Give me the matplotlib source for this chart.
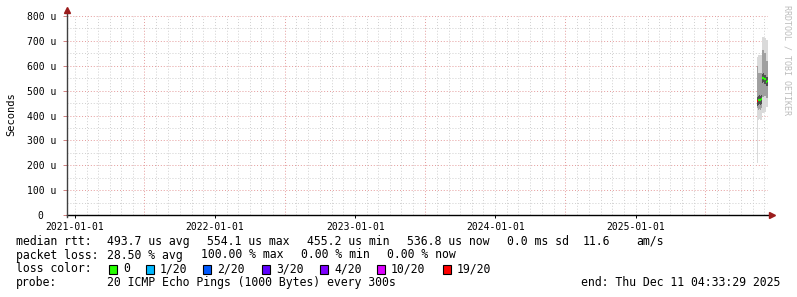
"""
Smokeping style latency graph (5 year view) rebuilt with matplotlib.
"""

import matplotlib
matplotlib.use("Agg")
import matplotlib.pyplot as plt
from matplotlib.patches import Rectangle
import pandas as pd

W, H = 797, 297
MONO = "DejaVu Sans Mono"

# --- data -------------------------------------------------------------
start = pd.Timestamp("2020-12-11 04:33:29")
end = pd.Timestamp("2025-12-11 04:33:29")

dates = pd.to_datetime([
    "2025-11-12", "2025-11-15", "2025-11-18", "2025-11-21", "2025-11-24",
    "2025-11-26", "2025-11-29", "2025-12-02", "2025-12-05", "2025-12-08",
    "2025-12-11",
])
median_rtt = [458, 462, 464, 462, 465, 550, 552, 545, 535, 537, 537]   # us
ping_min = [209, 382, 385, 382, 380, 410, 412, 415, 434, 434, 434]
ping_p25 = [430, 422, 425, 422, 430, 474, 474, 480, 470, 470, 470]
ping_p75 = [600, 571, 571, 571, 571, 663, 663, 650, 620, 620, 620]
ping_max = [635, 643, 643, 643, 643, 716, 716, 710, 703, 703, 703]
loss = [19, 0, 0, 0, 0, 0, 0, 0, 0, 0, 0]          # lost pings of 20

loss_levels = ["0", "1/20", "2/20", "3/20", "4/20", "10/20", "19/20"]
loss_limits = [0, 1, 2, 3, 4, 10, 19]
loss_colors = ["#26ff00", "#00b8ff", "#0059ff", "#5e00ff", "#7e00ff",
               "#dd00ff", "#ff0000"]

y_ticks = [0, 100, 200, 300, 400, 500, 600, 700, 800]
y_labels = ["0  ", "100 u", "200 u", "300 u", "400 u", "500 u", "600 u",
            "700 u", "800 u"]
year_labels = ["2021-01-01", "2022-01-01", "2023-01-01", "2024-01-01",
               "2025-01-01"]

legend_rows = [
    ("median rtt:", 241.5, [("493.7 us avg", 107), ("554.1 us max", 207),
                            ("455.2 us min", 307), ("536.8 us now", 407),
                            ("0.0 ms sd", 507), ("11.6", 583),
                            ("am/s", 636)]),
    ("packet loss:", 255, [("28.50 % avg", 107), ("100.00 % max", 201),
                           ("0.00 % min", 301), ("0.00 % now", 387)]),
    ("probe:", 282.5, [("20 ICMP Echo Pings (1000 Bytes) every 300s", 107)]),
]
end_label = "end: Thu Dec 11 04:33:29 2025"


def fx(x):
    return x / W


def fy(y):
    return 1 - y / H


def loss_color(n):
    col = loss_colors[0]
    for lim, c in zip(loss_limits, loss_colors):
        if n >= lim:
            col = c
    return col


fig = plt.figure(figsize=(W / 100, H / 100), dpi=100)
fig.patch.set_facecolor("white")
ax = fig.add_axes([fx(67), fy(215), fx(768 - 67), (215 - 16) / H])
ax.set_xlim(start, end)
ax.set_ylim(0, 800)
for s in ax.spines.values():
    s.set_visible(False)

# grid: minor grey every 50 u / month, major red every 100 u / mid-year
dot = (0, (1, 2))
for v in range(50, 801, 100):
    ax.axhline(v, color="#cfcfcf", lw=0.7, ls=dot, zorder=0)
for v in y_ticks[1:]:
    ax.axhline(v, color="#e49a9a", lw=0.7, ls=dot, zorder=0)
for m in pd.date_range("2021-01-01", end, freq="MS"):
    if m.month == 7:
        ax.axvline(m, color="#e49a9a", lw=0.7, ls=dot, zorder=0)
    else:
        ax.axvline(m, color="#cfcfcf", lw=0.7, ls=dot, zorder=0)

# smoke
ax.fill_between(dates, ping_min, ping_max, step="post", color="#dadada",
                lw=0, zorder=2)
ax.fill_between(dates, ping_p25, ping_p75, step="post", color="#a0a0a0",
                lw=0, zorder=3)
core_lo = [m - 18 for m in median_rtt]
core_hi = [m + 18 for m in median_rtt]
ax.fill_between(dates, core_lo, core_hi, step="post", color="#505050",
                lw=0, zorder=4)

# median line coloured by loss
for i in range(len(dates) - 1):
    ax.plot([dates[i], dates[i + 1]], [median_rtt[i], median_rtt[i]],
            color=loss_color(loss[i]), lw=1.6, solid_capstyle="butt",
            zorder=5)

# axes lines + arrows
ax.plot([0, 1.005], [0, 0], transform=ax.transAxes, color="black", lw=1,
        clip_on=False, zorder=6)
ax.plot([0, 0], [-0.012, 1.02], transform=ax.transAxes, color="#404040",
        lw=1, clip_on=False, zorder=6)
ax.plot([0], [1.028], transform=ax.transAxes, marker="^", ms=4,
        color="#9b1c1c", clip_on=False, zorder=7)
ax.plot([1.006], [0], transform=ax.transAxes, marker=">", ms=4,
        color="#9b1c1c", clip_on=False, zorder=7)

# ticks
ax.set_yticks(y_ticks)
ax.set_yticklabels(y_labels, fontfamily=MONO, fontsize=7)
ax.tick_params(axis="y", length=3, width=0.7, color="#d08080", pad=5)
ax.set_xticks(pd.to_datetime(year_labels))
ax.set_xticklabels(year_labels, fontfamily=MONO, fontsize=7)
ax.tick_params(axis="x", length=2, width=0.7, color="black", pad=3)

fig.text(fx(11), fy(114), "Seconds", rotation=90, ha="center", va="center",
         fontfamily=MONO, fontsize=7.5)

# watermark
fig.text(fx(787), fy(5), "RRDTOOL / TOBI OETIKER", rotation=270,
         ha="center", va="top", fontfamily=MONO, fontsize=6, color="#bcbcbc")

# legend block
for head, y, items in legend_rows:
    fig.text(fx(16), fy(y), head, ha="left", va="center", fontfamily=MONO,
             fontsize=8.3)
    for txt, x in items:
        fig.text(fx(x), fy(y), txt, ha="left", va="center", fontfamily=MONO,
                 fontsize=8.3)

y = 269
fig.text(fx(16), fy(y), "loss color:", ha="left", va="center",
         fontfamily=MONO, fontsize=8.3)
sq_x = [109, 146, 203, 262, 320, 377, 443]
for lab, col, x in zip(loss_levels, loss_colors, sq_x):
    fig.patches.append(Rectangle((fx(x), fy(y + 4.5)), 8 / W, 9 / H,
                                 transform=fig.transFigure, facecolor=col,
                                 edgecolor="black", lw=0.8))
    fig.text(fx(x + 14), fy(y), lab, ha="left", va="center",
             fontfamily=MONO, fontsize=8.3)

fig.text(fx(780), fy(282.5), end_label, ha="right", va="center",
         fontfamily=MONO, fontsize=8.3)

fig.savefig("out.png", dpi=100)
plt.close(fig)
